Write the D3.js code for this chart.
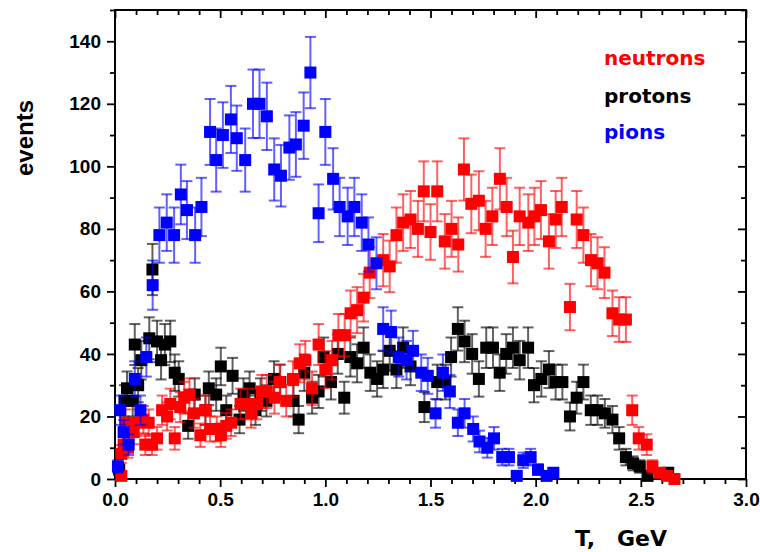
<!DOCTYPE html>
<html>
<head>
<meta charset="utf-8">
<script src="https://cdn.jsdelivr.net/npm/d3@7"></script>
<style>
  html, body { margin: 0; padding: 0; background: #fff; }
  svg { display: block; }
</style>
</head>
<body>
<svg id="chart" width="760" height="552"></svg>
<script>
// Kinetic-energy spectra of secondary particles (counts per bin).
const pionsT = [0.014,0.025,0.041,0.065,0.094,0.121,0.149,0.179,0.211,0.246,0.281,0.313,0.342,0.381,0.411,0.452,0.481,0.513,0.551,0.579,0.619,0.656,0.687,0.722,0.757,0.789,0.829,0.860,0.897,0.929,0.968,1.000,1.037,1.068,1.106,1.138,1.173,1.205,1.243,1.275,1.313,1.349,1.386,1.417,1.456,1.487,1.524,1.559,1.592,1.630,1.662,1.703,1.733,1.770,1.802,1.841,1.873,1.910,1.941,1.976,2.011,2.052,2.084];
const pionsN = [4,22,15,11,32,22,39,62,78,82,78,91,86,78,87,111,102,110,115,109,102,120,120,116,99,97,106,107,113,130,85,111,96,87,84,87,82,75,69,48,47,39,38,41,34,33,21,34,28,18,21,16,12,10,13,7,7,1,6,7,3,1,2];

const neutronsT = [0.030,0.030,0.041,0.049,0.062,0.089,0.105,0.135,0.144,0.160,0.176,0.200,0.224,0.248,0.263,0.284,0.310,0.329,0.354,0.375,0.406,0.430,0.452,0.484,0.503,0.529,0.552,0.597,0.630,0.647,0.675,0.698,0.722,0.758,0.783,0.814,0.846,0.878,0.905,0.937,0.968,1.000,1.032,1.062,1.092,1.120,1.151,1.182,1.211,1.275,1.306,1.338,1.370,1.405,1.440,1.468,1.500,1.532,1.568,1.600,1.632,1.659,1.694,1.730,1.762,1.794,1.830,1.862,1.892,1.924,1.965,1.994,2.025,2.063,2.095,2.124,2.163,2.195,2.227,2.263,2.294,2.327,2.365,2.397,2.429,2.459,2.490,2.528,2.555,2.590,2.624,2.660];
const neutronsN = [1,8,11,18,10,15,18,19,11,18,11,13,22,20,24,13,23,26,27,21,14,22,16,16,14,17,18,24,24,21,24,28,28,26,31,25,32,37,38,29,43,35,38,46,46,53,54,58,66,70,68,78,82,83,80,92,79,92,76,80,75,99,88,89,80,84,96,87,71,84,82,84,86,76,83,87,55,83,78,70,69,66,53,51,51,22,13,11,4,2,1,0];

const protonsT = [0.020,0.045,0.057,0.084,0.094,0.110,0.125,0.163,0.178,0.200,0.219,0.237,0.263,0.284,0.303,0.348,0.379,0.430,0.446,0.481,0.503,0.529,0.559,0.592,0.611,0.640,0.668,0.692,0.720,0.756,0.786,0.849,0.873,0.900,0.937,0.968,0.992,1.027,1.059,1.090,1.119,1.151,1.182,1.214,1.246,1.275,1.306,1.338,1.370,1.405,1.471,1.532,1.571,1.598,1.630,1.662,1.698,1.730,1.765,1.797,1.829,1.860,1.892,1.924,1.964,1.992,2.027,2.063,2.095,2.127,2.163,2.195,2.227,2.262,2.294,2.329,2.365,2.397,2.429,2.463,2.495,2.532,2.630];
const protonsN = [3,25,29,25,43,30,38,45,67,44,38,43,44,34,32,17,27,22,29,27,36,22,33,19,27,29,22,27,25,32,31,25,19,34,26,28,39,31,40,26,39,37,42,34,32,35,41,35,42,36,23,31,31,39,48,44,40,32,42,42,34,40,42,38,42,30,32,35,31,31,20,26,31,22,22,21,19,13,7,5,4,1,2];

const seriesNames = ["neutrons", "protons", "pions"];
const seriesColors = ["#ff0000", "#000000", "#0000ff"];

const xTickValues = [0, 0.5, 1.0, 1.5, 2.0, 2.5, 3.0];
const yTickValues = [0, 20, 40, 60, 80, 100, 120, 140];
const xAxisTitle = ["T,", "GeV"];
const yAxisTitle = "events";

// ---------------------------------------------------------------------------
const svg = d3.select("#chart");
const plotLeft = 115, plotRight = 746, plotTop = 10, plotBottom = 479;

const x = d3.scaleLinear().domain([0, 3]).range([plotLeft, plotRight]);
const y = d3.scaleLinear().domain([0, 150]).range([plotBottom, plotTop]);

const tickFont = "bold 19px 'Liberation Sans', Arial, sans-serif";
const minorX = d3.range(0, 31, 1).map(d => d / 10).filter(d => (Math.round(d * 10) % 5) !== 0);
const minorY = d3.range(10, 151, 20);

function styleAxis(g) {
  g.select(".domain").remove();
  g.selectAll(".tick line").attr("stroke", "#000").attr("stroke-width", 1.8);
  g.selectAll(".tick text").style("font", tickFont).attr("fill", "#000");
}

// bottom axis: outward ticks with labels
svg.append("g").attr("transform", `translate(0,${plotBottom})`)
  .call(d3.axisBottom(x).tickValues(xTickValues).tickFormat(d3.format(".1f")).tickSize(8).tickPadding(6))
  .call(styleAxis);
svg.append("g").attr("transform", `translate(0,${plotBottom})`)
  .call(d3.axisBottom(x).tickValues(minorX).tickFormat("").tickSize(5))
  .call(styleAxis);

// top frame: inward ticks
svg.append("g").attr("transform", `translate(0,${plotTop})`)
  .call(d3.axisBottom(x).tickValues(xTickValues).tickFormat("").tickSize(8))
  .call(styleAxis);
svg.append("g").attr("transform", `translate(0,${plotTop})`)
  .call(d3.axisBottom(x).tickValues(minorX).tickFormat("").tickSize(5))
  .call(styleAxis);

// left axis: outward ticks with labels
svg.append("g").attr("transform", `translate(${plotLeft},0)`)
  .call(d3.axisLeft(y).tickValues(yTickValues).tickSize(8).tickPadding(6))
  .call(styleAxis);
svg.append("g").attr("transform", `translate(${plotLeft},0)`)
  .call(d3.axisLeft(y).tickValues(minorY).tickFormat("").tickSize(5))
  .call(styleAxis);

// right frame: inward ticks
svg.append("g").attr("transform", `translate(${plotRight},0)`)
  .call(d3.axisLeft(y).tickValues(yTickValues).tickFormat("").tickSize(8))
  .call(styleAxis);
svg.append("g").attr("transform", `translate(${plotRight},0)`)
  .call(d3.axisLeft(y).tickValues(minorY).tickFormat("").tickSize(5))
  .call(styleAxis);

// plot frame
svg.append("rect")
  .attr("x", plotLeft).attr("y", plotTop)
  .attr("width", plotRight - plotLeft).attr("height", plotBottom - plotTop)
  .attr("fill", "none").attr("stroke", "#000").attr("stroke-width", 2);

// ---------------------------------------------------------------------------
// data points with Poisson (sqrt N) error bars
const datasets = [
  { T: protonsT, N: protonsN, color: seriesColors[1] },
  { T: neutronsT, N: neutronsN, color: seriesColors[0] },
  { T: pionsT, N: pionsN, color: seriesColors[2] }
];

const box = 12, cap = 11;

datasets.forEach(ds => {
  const pts = ds.T.map((t, i) => ({ t, n: ds.N[i], err: Math.sqrt(ds.N[i]) }));
  const g = svg.append("g");

  const eb = g.append("g")
    .attr("stroke", ds.color)
    .attr("stroke-opacity", 0.62)
    .attr("stroke-width", 2)
    .selectAll("g").data(pts.filter(p => p.err > 0)).join("g");

  eb.append("line")
    .attr("x1", p => x(p.t)).attr("x2", p => x(p.t))
    .attr("y1", p => y(p.n + p.err)).attr("y2", p => y(Math.max(0, p.n - p.err)));
  eb.append("line")
    .attr("x1", p => x(p.t) - cap / 2).attr("x2", p => x(p.t) + cap / 2)
    .attr("y1", p => y(p.n + p.err)).attr("y2", p => y(p.n + p.err));
  eb.append("line")
    .attr("x1", p => x(p.t) - cap / 2).attr("x2", p => x(p.t) + cap / 2)
    .attr("y1", p => y(Math.max(0, p.n - p.err))).attr("y2", p => y(Math.max(0, p.n - p.err)));

  g.append("g").attr("fill", ds.color)
    .selectAll("rect").data(pts).join("rect")
    .attr("x", p => x(p.t) - box / 2)
    .attr("y", p => y(p.n) - box / 2)
    .attr("width", box).attr("height", box);
});

// ---------------------------------------------------------------------------
// legend
const legendFont = "bold 20px 'DejaVu Sans', sans-serif";
const legendBaselines = [65, 103, 139];
seriesNames.forEach((name, i) => {
  svg.append("text")
    .attr("x", 604).attr("y", legendBaselines[i])
    .attr("fill", seriesColors[i])
    .style("font", legendFont)
    .text(name);
});

// axis titles
svg.append("text")
  .attr("transform", "translate(33,138) rotate(-90)")
  .attr("text-anchor", "middle")
  .style("font", "bold 24px 'Liberation Sans', Arial, sans-serif")
  .text(yAxisTitle);

svg.append("text")
  .attr("x", 575).attr("y", 546)
  .style("font", "bold 22px 'DejaVu Sans', sans-serif")
  .text(xAxisTitle[0]);
svg.append("text")
  .attr("x", 617).attr("y", 546)
  .style("font", "bold 22px 'DejaVu Sans', sans-serif")
  .text(xAxisTitle[1]);
</script>
</body>
</html>
